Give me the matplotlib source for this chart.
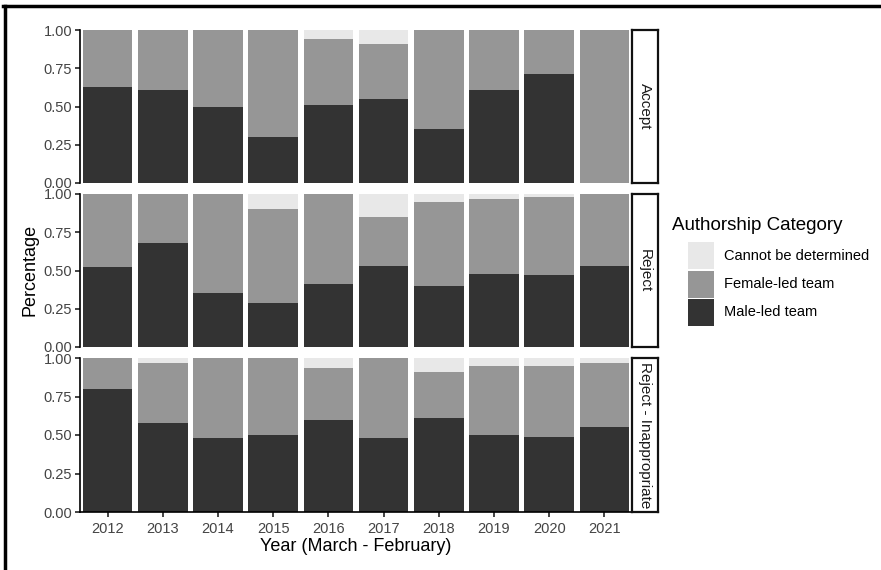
import matplotlib
matplotlib.use('Agg')
import matplotlib.pyplot as plt
from matplotlib.patches import Rectangle
from matplotlib.lines import Line2D
import numpy as np

plt.rcParams['font.family'] = ['Liberation Sans', 'DejaVu Sans']

years = ['2012', '2013', '2014', '2015', '2016', '2017', '2018', '2019', '2020', '2021']
facets = ['Accept', 'Reject', 'Reject - Inappropriate']

# share of male-led, female-led, undetermined per year
male = {
    'Accept': [0.63, 0.61, 0.50, 0.30, 0.51, 0.55, 0.35, 0.61, 0.71, 0.00],
    'Reject': [0.52, 0.68, 0.35, 0.29, 0.41, 0.53, 0.40, 0.48, 0.47, 0.53],
    'Reject - Inappropriate': [0.80, 0.58, 0.48, 0.50, 0.60, 0.48, 0.61, 0.50, 0.49, 0.55],
}
female = {
    'Accept': [0.37, 0.39, 0.50, 0.70, 0.43, 0.36, 0.65, 0.39, 0.29, 1.00],
    'Reject': [0.48, 0.32, 0.65, 0.61, 0.59, 0.32, 0.55, 0.49, 0.51, 0.47],
    'Reject - Inappropriate': [0.20, 0.39, 0.52, 0.50, 0.335, 0.52, 0.30, 0.45, 0.46, 0.42],
}
undetermined = {
    'Accept': [0.00, 0.00, 0.00, 0.00, 0.06, 0.09, 0.00, 0.00, 0.00, 0.00],
    'Reject': [0.00, 0.00, 0.00, 0.10, 0.00, 0.15, 0.05, 0.03, 0.02, 0.00],
    'Reject - Inappropriate': [0.00, 0.03, 0.00, 0.00, 0.065, 0.00, 0.09, 0.05, 0.05, 0.03],
}

categories = ['Cannot be determined', 'Female-led team', 'Male-led team']
col_male = '#333333'
col_female = '#969696'
col_undet = '#e8e8e8'

W, H = 881, 570
fig = plt.figure(figsize=(W / 100, H / 100), dpi=100)

left, right = 80, 632
tops = [30, 194, 358]
bottoms = [183, 347, 512]
x = np.arange(1, len(years) + 1)

for i, f in enumerate(facets):
    ax = fig.add_axes([left / W, 1 - bottoms[i] / H, (right - left) / W, (bottoms[i] - tops[i]) / H])
    m = np.array(male[f])
    fe = np.array(female[f])
    u = np.array(undetermined[f])
    ax.bar(x, m, width=0.9, color=col_male)
    ax.bar(x, fe, width=0.9, bottom=m, color=col_female)
    ax.bar(x, u, width=0.9, bottom=m + fe, color=col_undet)
    ax.set_xlim(0.5, 10.5)
    ax.set_ylim(0, 1)
    ax.set_yticks([0, 0.25, 0.5, 0.75, 1.0])
    ax.set_yticklabels(['0.00', '0.25', '0.50', '0.75', '1.00'])
    for s in ['top', 'right']:
        ax.spines[s].set_visible(False)
    ax.spines['left'].set_linewidth(1.2)
    ax.tick_params(axis='y', length=3.5, width=1.1, labelsize=10.5, colors='#111111', labelcolor='#444444', pad=2)
    if i < 2:
        ax.spines['bottom'].set_visible(False)
        ax.set_xticks([])
    else:
        ax.spines['bottom'].set_linewidth(1.2)
        ax.set_xticks(x)
        ax.set_xticklabels(years)
        ax.tick_params(axis='x', length=3.5, width=1.1, labelsize=10.5, colors='#111111', labelcolor='#444444', pad=4)
        ax.set_xlabel('Year (March - February)', fontsize=13, labelpad=1)

    # facet strip on the right
    sax = fig.add_axes([right / W, 1 - bottoms[i] / H, 26 / W, (bottoms[i] - tops[i]) / H])
    sax.set_xticks([])
    sax.set_yticks([])
    sax.set_facecolor('white')
    for s in sax.spines.values():
        s.set_linewidth(1.6)
        s.set_color('#111111')
    sax.text(0.5, 0.5, f, rotation=-90, ha='center', va='center', fontsize=11,
             color='#1a1a1a', transform=sax.transAxes)

fig.text(30 / W, 1 - 270 / H, 'Percentage', rotation=90, ha='center', va='center', fontsize=13)

# legend drawn by hand: title, then indented keys
fig.text(672 / W, 1 - 226 / H, 'Authorship Category', ha='left', va='center', fontsize=13.5)
key_cols = [col_undet, col_female, col_male]
key_tops = [242, 271, 299]
for lab, c, kt in zip(categories, key_cols, key_tops):
    fig.patches.append(Rectangle((688 / W, 1 - (kt + 27) / H), 26 / W, 27 / H,
                                 facecolor=c, edgecolor='none', transform=fig.transFigure))
    fig.text(724 / W, 1 - (kt + 13.5) / H, lab, ha='left', va='center', fontsize=10.5)

# outer frame (left and top edges)
fig.add_artist(Line2D([4.5 / W, 4.5 / W], [0, 1 - 6 / H], color='black', lw=2.5))
fig.add_artist(Line2D([3 / W, 1], [1 - 6 / H, 1 - 6 / H], color='black', lw=2.5))

fig.savefig('out.png', dpi=100, facecolor='white')
